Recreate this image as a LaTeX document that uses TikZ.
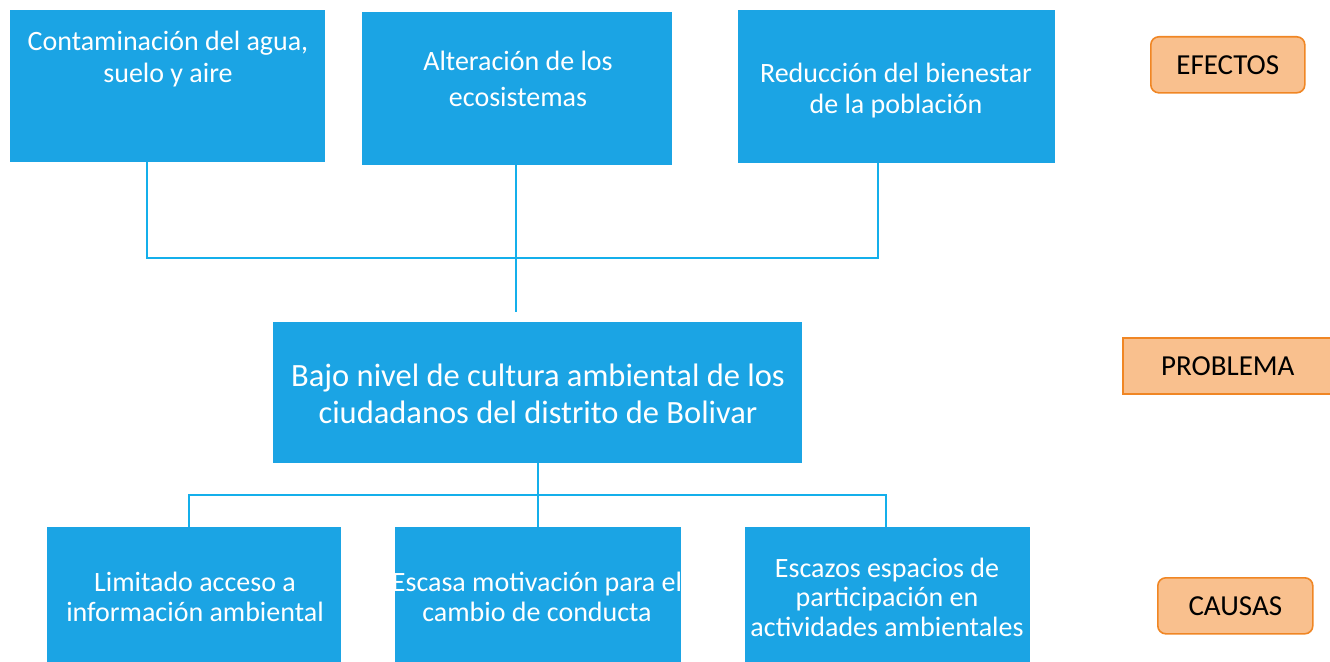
\documentclass[tikz,border=0pt]{standalone}
\usepackage{fontspec}
\setmainfont{Carlito}
\definecolor{boxblue}{RGB}{27,164,228}
\definecolor{lineblue}{RGB}{20,175,235}
\definecolor{tagfill}{RGB}{249,192,142}
\definecolor{tagdraw}{RGB}{240,134,36}
\begin{document}
\begin{tikzpicture}[x=1pt,y=-1pt,
  bluebox/.style={fill=boxblue,draw=none,inner sep=0pt},
  wtext/.style={text=white,align=center,font=\fontsize{28}{32}\selectfont,inner sep=0pt},
  btext/.style={text=white,align=center,font=\fontsize{32.5}{37}\selectfont,inner sep=0pt},
  tag/.style={fill=tagfill,draw=tagdraw,line width=1.6pt,inner sep=0pt,text=black,font=\fontsize{29}{32}\selectfont},
  link/.style={draw=lineblue,line width=1.6pt}]
\useasboundingbox (0,0) rectangle (1330,661);
% effect boxes
\node[bluebox,minimum width=315,minimum height=152,anchor=north west] (b1) at (10,10) {};
\node[bluebox,minimum width=310,minimum height=153,anchor=north west] (b2) at (362,12) {};
\node[bluebox,minimum width=317,minimum height=153,anchor=north west] (b3) at (738,10) {};
\node[wtext] (t1) at (168,59) {Contaminación del agua,\\suelo y aire};
\node[wtext,font=\fontsize{28}{36}\selectfont] (t2) at (518,79) {Alteración de los\\ecosistemas};
\node[wtext,font=\fontsize{28}{31}\selectfont] (t3) at (896,91) {Reducción del bienestar\\de la población};
% problem
\node[bluebox,minimum width=529,minimum height=141,anchor=north west] (p) at (273,322) {};
\node[btext] (pt) at (538,394) {Bajo nivel de cultura ambiental de los\\ciudadanos del distrito de Bolivar};
% cause boxes
\node[bluebox,minimum width=294,minimum height=140,anchor=north west] (c1) at (47,527) {};
\node[bluebox,minimum width=286,minimum height=140,anchor=north west] (c2) at (395,527) {};
\node[bluebox,minimum width=285,minimum height=140,anchor=north west] (c3) at (745,527) {};
\node[wtext,font=\fontsize{28}{30}\selectfont] (u1) at (195,597) {Limitado acceso a\\información ambiental};
\node[wtext,font=\fontsize{28}{30}\selectfont] (u2) at (537,597) {Escasa motivación para el\\cambio de conducta};
\node[wtext,font=\fontsize{28}{29.5}\selectfont] (u3) at (887,597) {Escazos espacios de\\participación en\\actividades ambientales};
% tags
\node[tag,rounded corners=8pt,minimum width=154,minimum height=56,anchor=north west] (e) at (1150,36) {EFECTOS};
\node[tag,minimum width=210,minimum height=56,anchor=north west] (pr) at (1122,337) {PROBLEMA};
\node[tag,rounded corners=8pt,minimum width=155,minimum height=56,anchor=north west] (ca) at (1157,577) {CAUSAS};
% connectors top
\coordinate (j1) at (147,258);
\coordinate (j3) at (878,258);
\coordinate (jm) at (516,258);
\coordinate (pin) at (516,312);
\draw[link] (b1.south -| j1) -- (j1) -- (j3) -- (b3.south -| j3);
\draw[link] (b2.south -| jm) -- (pin);
% connectors bottom
\coordinate (k1) at (189,495);
\coordinate (k2) at (538,495);
\coordinate (k3) at (886,495);
\draw[link] (p.south -| k2) -- (k2);
\draw[link] (c1.north -| k1) -- (k1) -- (k3) -- (c3.north -| k3);
\draw[link] (k2) -- (c2.north -| k2);
\end{tikzpicture}
\end{document}
